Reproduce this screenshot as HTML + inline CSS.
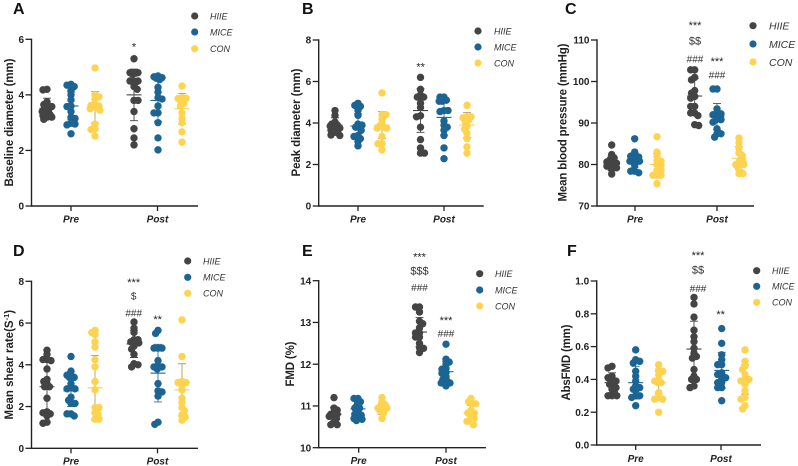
<!DOCTYPE html>
<html lang="en">
<head>
<meta charset="utf-8">
<title>Vascular outcomes by group, pre and post</title>
<style>
html,body{margin:0;padding:0;background:#fff;}
svg{display:block;font-family:"Liberation Sans",sans-serif;filter:blur(0.3px);}
.letter{font-size:16px;font-weight:bold;fill:#111;}
.ytitle{font-size:11.5px;font-weight:bold;fill:#222;}
.leg{font-size:9px;font-style:italic;fill:#333;}
.legc{font-size:10.5px;font-style:italic;fill:#333;}
.star{font-size:11px;fill:#222;text-anchor:middle;}
.sym{font-size:10px;fill:#333;text-anchor:middle;}
.tick{font-size:10px;font-weight:bold;fill:#222;text-anchor:end;}
.cat{font-size:10px;font-weight:bold;font-style:italic;fill:#222;text-anchor:middle;}
</style>
</head>
<body>
<svg id="figure" width="798" height="466" viewBox="0 0 798 466" xmlns="http://www.w3.org/2000/svg">
<g id="panel-a">
  <text class="letter" x="13" y="14">A</text>
  <text class="ytitle" transform="translate(13,122.5) rotate(-90)" text-anchor="middle" textLength="128">Baseline diameter (mm)</text>
  <g>
    <circle cx="194.7" cy="16" r="3.6" fill="#444444"/><text class="leg" x="210" y="19.3">HIIE</text>
    <circle cx="194.7" cy="32" r="3.6" fill="#1b6493"/><text class="leg" x="210" y="35.3">MICE</text>
    <circle cx="194.7" cy="48.7" r="3.6" fill="#fdd34f"/><text class="leg" x="210" y="52">CON</text>
  </g>
  <text class="star" x="134" y="50.5">*</text>
</g>
<g id="panel-b">
  <text class="letter" x="302" y="14">B</text>
  <text class="ytitle" transform="translate(300,122.5) rotate(-90)" text-anchor="middle" textLength="108">Peak diameter (mm)</text>
  <g>
    <circle cx="478" cy="31" r="3.6" fill="#444444"/><text class="leg" x="494" y="34.3">HIIE</text>
    <circle cx="478" cy="47" r="3.6" fill="#1b6493"/><text class="leg" x="494" y="50.3">MICE</text>
    <circle cx="478" cy="63" r="3.6" fill="#fdd34f"/><text class="leg" x="494" y="66.3">CON</text>
  </g>
  <text class="star" x="420.7" y="70.5">**</text>
</g>
<g id="panel-c">
  <text class="letter" x="565" y="14">C</text>
  <text class="ytitle" transform="translate(566.5,122.5) rotate(-90)" text-anchor="middle" textLength="158">Mean blood pressure (mmHg)</text>
  <g>
    <circle cx="753" cy="25.7" r="3.6" fill="#444444"/><text class="legc" x="769" y="29.5">HIIE</text>
    <circle cx="753" cy="44" r="3.6" fill="#1b6493"/><text class="legc" x="769" y="47.8">MICE</text>
    <circle cx="753" cy="62" r="3.6" fill="#fdd34f"/><text class="legc" x="769" y="65.8">CON</text>
  </g>
  <text class="star" x="695" y="29">***</text>
  <text class="sym" x="695" y="44.5" style="font-size:11px">$$</text>
  <text class="sym" x="695" y="62.5">###</text>
  <text class="star" x="717" y="65">***</text>
  <text class="sym" x="717" y="78.5">###</text>
</g>
<g id="panel-d">
  <text class="letter" x="13" y="256">D</text>
  <text class="ytitle" transform="translate(13,364.7) rotate(-90)" text-anchor="middle">Mean shear rate(S<tspan dy="-4" font-size="7.5">-1</tspan><tspan dy="4">)</tspan></text>
  <g>
    <circle cx="187.7" cy="261" r="3.6" fill="#444444"/><text class="leg" x="203" y="264.3">HIIE</text>
    <circle cx="187.7" cy="277.3" r="3.6" fill="#1b6493"/><text class="leg" x="203" y="280.6">MICE</text>
    <circle cx="187.7" cy="293.3" r="3.6" fill="#fdd34f"/><text class="leg" x="203" y="296.6">CON</text>
  </g>
  <text class="star" x="133.7" y="286">***</text>
  <text class="sym" x="133.7" y="299.5">$</text>
  <text class="sym" x="133.7" y="316.5">###</text>
  <text class="star" x="157.7" y="323">**</text>
</g>
<g id="panel-e">
  <text class="letter" x="302" y="256">E</text>
  <text class="ytitle" transform="translate(294,364) rotate(-90)" text-anchor="middle" textLength="45">FMD (%)</text>
  <g>
    <circle cx="479.7" cy="273.7" r="3.6" fill="#444444"/><text class="leg" x="495" y="277">HIIE</text>
    <circle cx="479.7" cy="290" r="3.6" fill="#1b6493"/><text class="leg" x="495" y="293.3">MICE</text>
    <circle cx="479.7" cy="306" r="3.6" fill="#fdd34f"/><text class="leg" x="495" y="309.3">CON</text>
  </g>
  <text class="star" x="419.5" y="260.5">***</text>
  <text class="sym" x="419.5" y="274.5" style="font-size:11px">$$$</text>
  <text class="sym" x="419.5" y="291">###</text>
  <text class="star" x="446" y="324">***</text>
  <text class="sym" x="446" y="337">###</text>
</g>
<g id="panel-f">
  <text class="letter" x="567" y="256">F</text>
  <text class="ytitle" transform="translate(570,362.5) rotate(-90)" text-anchor="middle" textLength="76">AbsFMD (mm)</text>
  <g>
    <circle cx="756.7" cy="270.7" r="3.6" fill="#444444"/><text class="leg" x="772" y="274">HIIE</text>
    <circle cx="756.7" cy="286.3" r="3.6" fill="#1b6493"/><text class="leg" x="772" y="289.6">MICE</text>
    <circle cx="756.7" cy="302.3" r="3.6" fill="#fdd34f"/><text class="leg" x="772" y="305.6">CON</text>
  </g>
  <text class="star" x="698" y="259">***</text>
  <text class="sym" x="698" y="273.5" style="font-size:11px">$$</text>
  <text class="sym" x="698" y="292">###</text>
  <text class="star" x="720.7" y="318">**</text>
</g>
</svg>
<script>
// ---- chart data ----
const categories = ['Pre', 'Post'];
const groups = ['HIIE', 'MICE', 'CON'];

const ticksA = ['0', '2', '4', '6'];
const ticksB = ['0', '2', '4', '6', '8'];
const ticksC = ['70', '80', '90', '100', '110'];
const ticksD = ['0', '2', '4', '6', '8'];
const ticksE = ['10', '11', '12', '13', '14'];
const ticksF = ['0.0', '0.2', '0.4', '0.6', '0.8', '1.0'];

// Each values array: Pre HIIE, Pre MICE, Pre CON, Post HIIE, Post MICE, Post CON
const valuesA = [
  [4.2,4.18,3.75,3.6,3.58,3.5,3.45,3.4,3.33,3.28,3.2,3.2,3.12,3.25,3.65],
  [4.38,4.35,4.3,4.15,4.0,3.82,3.6,3.58,3.4,3.2,3.15,2.98,2.95,2.92,2.6],
  [4.97,4.0,3.93,3.84,3.65,3.62,3.6,3.55,3.5,3.45,2.95,2.78,2.75,2.52,3.58],
  [5.3,4.8,4.8,4.8,4.78,4.75,4.5,4.5,4.5,4.48,4.45,4.3,4.2,3.8,3.8,3.4,2.78,2.45,2.2],
  [4.68,4.65,4.62,4.6,4.55,4.27,4.1,3.9,3.85,3.6,3.35,3.35,3.0,2.45,2.02],
  [4.32,3.9,3.87,3.85,3.8,3.7,3.6,3.35,3.15,3.0,2.67,2.3,3.88]
];
const meansA = [3.52,3.6,3.55,4.0,3.8,3.5];
const sdsA = [0.36,0.5,0.57,0.93,0.75,0.55];

const valuesB = [
  [4.6,4.37,4.05,3.9,3.9,3.85,3.75,3.7,3.65,3.55,3.55,3.42,3.4,3.95],
  [4.95,4.85,4.8,4.6,4.37,3.95,3.9,3.8,3.8,3.65,3.4,3.35,3.25,3.1,2.9],
  [5.45,4.4,4.4,4.2,4.0,3.8,3.75,3.75,3.35,3.0,3.0,2.7,3.85],
  [6.2,5.62,5.35,5.25,5.25,5.2,4.95,4.75,4.35,4.3,3.8,3.2,2.8,2.55,2.55],
  [5.25,5.25,5.1,5.05,5.05,4.6,4.6,4.55,4.1,3.9,3.8,3.65,3.4,2.8,2.28],
  [4.85,4.3,4.3,4.25,4.15,4.05,3.85,3.7,3.5,3.25,2.85,2.55]
];
const meansB = [3.9,3.85,3.9,4.6,4.27,3.9];
const sdsB = [0.35,0.6,0.65,1.05,0.85,0.6];

const valuesC = [
  [84.7,82.4,81.6,80.6,80.6,80,79.9,79.6,78.8,77.7,81.2,80.3,79.2],
  [86.2,83,82,82,81.4,80.8,80.8,80.8,79.8,78.4,78.4,78,81.8],
  [86.7,83,82,80.8,80,78.6,78.6,77.4,77.4,77.4,75.4,81,79.8],
  [102.8,102.8,101,100.4,97.8,97.2,96.4,96,94,94,92.4,92.4,91.8,89.6,89.4],
  [98.2,98.2,93.4,92.2,92.2,92,91.6,90.8,90.8,90.2,88.6,87.4,87.4,86.6],
  [86.4,85.2,84,82.8,82.2,80.6,80.6,80,80,80,79.2,77.8,77.8]
];
const meansC = [80.3,81,80,96.5,91.5,81.5];
const sdsC = [1.8,1.8,2.7,4.2,3.2,2.8];

const valuesD = [
  [4.7,4.5,4.25,4.25,4.2,3.8,3.3,3.2,3.1,2.95,2.95,2.4,1.75,1.7,1.65,1.55,1.25,1.2],
  [4.4,3.7,3.5,3.5,3.4,3.4,3.1,2.9,2.85,2.85,2.45,2.3,2.15,2.15,1.65,1.65,1.55],
  [5.65,5.55,5.1,4.85,4.25,3.9,3.2,2.8,1.95,1.95,1.7,1.6,1.4,1.4,5.45],
  [6.05,5.75,5.55,5.2,5.2,5.1,5.1,5.05,4.9,4.75,4.5,4.05,4.0,3.9],
  [5.65,5.5,4.8,4.8,4.8,4.2,3.95,3.9,3.9,3.8,3.1,2.75,2.7,2.5,1.25,1.15],
  [6.15,4.4,3.2,3.15,3.15,3.0,2.8,2.4,2.2,1.95,1.8,1.6,1.5,1.35]
];
const meansD = [2.95,2.75,2.9,5.0,3.6,2.8];
const sdsD = [1.2,0.75,1.55,0.65,1.38,1.25];

const valuesE = [
  [11.2,10.95,10.85,10.8,10.8,10.75,10.7,10.62,10.55,10.55,10.9,10.78],
  [11.18,11.18,11.1,11.03,10.95,10.95,10.85,10.8,10.78,10.72,10.7,10.68,10.65],
  [11.2,11.1,11.03,10.95,10.95,10.92,10.9,10.83,10.7,11.0],
  [13.37,13.37,13.25,13.03,12.97,12.87,12.75,12.75,12.65,12.65,12.5,12.4,12.38,12.28],
  [12.48,12.12,12.0,11.9,11.88,11.8,11.78,11.7,11.63,11.6,11.55,11.55,11.48,12.05],
  [11.18,11.05,11.05,10.9,10.83,10.83,10.75,10.63,10.63,10.55,11.1,10.7]
];
const meansE = [10.8,10.93,10.93,12.77,11.82,10.83];
const sdsE = [0.17,0.15,0.13,0.35,0.24,0.18];

const valuesF = [
  [0.48,0.47,0.42,0.39,0.39,0.37,0.37,0.34,0.32,0.3,0.3,0.3,0.41,0.35],
  [0.58,0.52,0.5,0.45,0.42,0.39,0.36,0.35,0.34,0.34,0.3,0.3,0.29,0.24,0.51],
  [0.49,0.46,0.43,0.4,0.39,0.38,0.38,0.32,0.29,0.28,0.28,0.2,0.45],
  [0.9,0.86,0.78,0.7,0.66,0.63,0.59,0.56,0.54,0.53,0.46,0.42,0.4,0.4,0.36,0.35],
  [0.71,0.62,0.55,0.52,0.49,0.49,0.44,0.43,0.41,0.41,0.38,0.38,0.35,0.35,0.27],
  [0.58,0.51,0.46,0.43,0.4,0.4,0.39,0.37,0.33,0.29,0.28,0.24,0.22,0.48]
];
const meansF = [0.38,0.38,0.38,0.585,0.455,0.4];
const sdsF = [0.06,0.1,0.07,0.17,0.11,0.09];

// ---- layout (not data) ----
const dotColors = ['#444444', '#1b6493', '#fdd34f'];
const errColors = ['#444444', '#3f6f8f', '#b39f68'];
const NS = 'http://www.w3.org/2000/svg';

const panels = [
  {id:'a', vals:valuesA, means:meansA, sds:sdsA, ticks:ticksA, x0:31.5, xEnd:198, yTop:39.3, yBot:206, catY:222.5, cats:[71,157.5], cx:[47,71,95,134,158,182]},
  {id:'b', vals:valuesB, means:meansB, sds:sdsB, ticks:ticksB, x0:318.7, xEnd:483.7, yTop:40, yBot:206, catY:222.5, cats:[358,444], cx:[335,358,382,420.5,444,467]},
  {id:'c', vals:valuesC, means:meansC, sds:sdsC, ticks:ticksC, x0:597, xEnd:754, yTop:40, yBot:206, catY:222.5, cats:[635,717], cx:[611.7,634.7,657,694.7,717,739]},
  {id:'d', vals:valuesD, means:meansD, sds:sdsD, ticks:ticksD, x0:31.5, xEnd:198, yTop:281.3, yBot:448.3, catY:464.5, cats:[71,157.5], cx:[47,71,95,134,158,182]},
  {id:'e', vals:valuesE, means:meansE, sds:sdsE, ticks:ticksE, x0:318.7, xEnd:486, yTop:280.7, yBot:447.7, catY:464, cats:[358.7,446], cx:[334,358,382,419.5,446,471]},
  {id:'f', vals:valuesF, means:meansF, sds:sdsF, ticks:ticksF, x0:596.7, xEnd:761, yTop:281, yBot:445, catY:462, cats:[635.7,721], cx:[612,635.7,658.7,694,721.7,745]}
];

function el(tag, parent, attrs, text) {
  const node = document.createElementNS(NS, tag);
  for (const k in attrs) node.setAttribute(k, attrs[k]);
  if (text !== undefined) node.textContent = text;
  parent.appendChild(node);
  return node;
}

// Compact swarm: sideways offset limited to a narrow band, so dots overlap as in the original.
function swarm(values, scaleY, minDist, maxOff) {
  const sorted = values.slice().sort((a, b) => b - a);
  const placed = [];
  sorted.forEach(v => {
    const py = scaleY(v);
    const sign = placed.length % 2 === 0 ? 1 : -1;
    const candidates = [0];
    for (let o = 1; o * 0.8 <= maxOff; o++) candidates.push(sign * o * 0.8, -sign * o * 0.8);
    let best = 0, bestDist = -1;
    for (const off of candidates) {
      const d = placed.reduce((m, q) => Math.min(m, Math.hypot(q.x - off, q.y - py)), Infinity);
      if (d >= minDist) { best = off; bestDist = d; break; }
      if (d > bestDist) { best = off; bestDist = d; }
    }
    placed.push({x: best, y: py, v: v});
  });
  return placed;
}

panels.forEach(p => {
  const root = document.getElementById('panel-' + p.id);
  const lo = parseFloat(p.ticks[0]);
  const hi = parseFloat(p.ticks[p.ticks.length - 1]);
  const scaleY = v => p.yBot - (v - lo) / (hi - lo) * (p.yBot - p.yTop);

  // marks
  p.vals.forEach((series, i) => {
    const g = i % 3;
    const grp = el('g', root, {});
    
    
    const m = p.means[i], s = p.sds[i], x = p.cx[i];
    const ym = scaleY(m), yh = scaleY(m + s), yl = scaleY(m - s);
    const bar = el('path', grp, {
      d: `M${x} ${yh}V${yl}M${x - 4} ${yh}H${x + 4}M${x - 4} ${yl}H${x + 4}`,
      stroke: errColors[g], 'stroke-width': 0.9, fill: 'none'
    });
    
    
    swarm(series, scaleY, 3.8, 5.6).forEach(pt => {
      const c = el('circle', grp, {cx: p.cx[i] + pt.x, cy: pt.y, r: 3.7, fill: dotColors[g]});
      
      
    });
    const meanLine = el('line', grp, {x1: x - 7.5, x2: x + 7.5, y1: ym, y2: ym, stroke: dotColors[g] === '#fdd34f' ? '#fbcf4a' : dotColors[g], 'stroke-width': 1.1});
    
    
  });

  // y axis
  const yAxis = el('g', root, {});
  
  
  el('line', yAxis, {x1: p.x0, x2: p.x0, y1: p.yTop - 0.7, y2: p.yBot + 0.7, stroke: '#222', 'stroke-width': 1.4});
  p.ticks.forEach(t => {
    const y = scaleY(parseFloat(t));
    el('line', yAxis, {x1: p.x0 - 6, x2: p.x0, y1: y, y2: y, stroke: '#222', 'stroke-width': 1.3});
    const label = el('text', yAxis, {class: 'tick', x: p.x0 - 7.5, y: y + 3.6}, t);
    
    
  });

  // x axis
  const xAxis = el('g', root, {});
  
  
  el('line', xAxis, {x1: p.x0, x2: p.xEnd, y1: p.yBot, y2: p.yBot, stroke: '#222', 'stroke-width': 1.4});
  categories.forEach((c, i) => {
    el('line', xAxis, {x1: p.cats[i], x2: p.cats[i], y1: p.yBot, y2: p.yBot + 5, stroke: '#222', 'stroke-width': 1.3});
    const label = el('text', xAxis, {class: 'cat', x: p.cats[i], y: p.catY}, c);
    
    
  });
});
</script>
</body>
</html>
